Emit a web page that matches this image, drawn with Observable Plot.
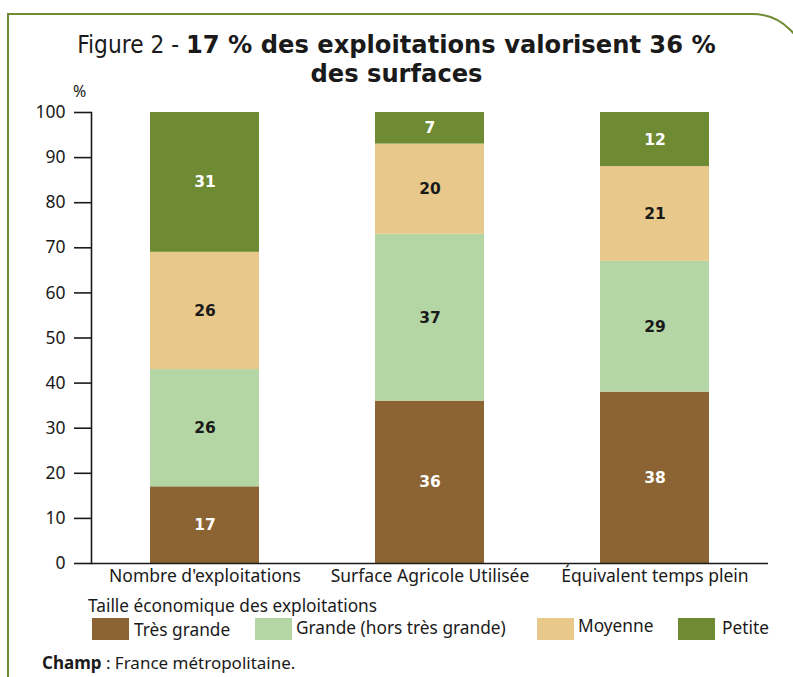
<!DOCTYPE html>
<html>
<head>
<meta charset="utf-8">
<script src="https://cdn.jsdelivr.net/npm/d3@7"></script>
<script src="https://cdn.jsdelivr.net/npm/@observablehq/plot@0.6"></script>
<style>
  html, body { margin: 0; padding: 0; background: #fff; }
  body { width: 793px; height: 677px; position: relative; overflow: hidden; font-family: "Noto Sans", sans-serif; color: #1a1a1a; }
  #frame { position: absolute; left: 7px; top: 13px; width: 800px; height: 720px; border: 2px solid #6f8c33; border-top-right-radius: 55px; box-sizing: border-box; }
  #title { position: absolute; left: 0; width: 793px; top: 31px; text-align: center; font-family: "DejaVu Sans", sans-serif; font-size: 24.2px; line-height: 29px; }
  #title span { font-family: "DejaVu Sans Condensed", "DejaVu Sans", sans-serif; }
  #title b { font-weight: bold; }
  #chart { position: absolute; left: 0; top: 0; }
  #pct { position: absolute; left: 73px; top: 80px; font-size: 16px; }
  #legend { position: absolute; left: 88px; top: 594px; font-size: 17.3px; }
  .lt { position: absolute; white-space: nowrap; }
  .sw { position: absolute; width: 37px; height: 22px; }
  #champ { position: absolute; left: 42px; top: 651px; font-size: 17px; }
</style>
</head>
<body>
<div id="frame"></div>
<div id="chart"></div>
<div id="title"><span>Figure 2 - </span><b>17 % des exploitations valorisent 36 %<br>des surfaces</b></div>
<div id="pct">%</div>
<div id="legend"></div>
<div id="champ"><b>Champ</b> : France métropolitaine.</div>
<script>
const categories = ["Nombre d'exploitations", "Surface Agricole Utilisée", "Équivalent temps plein"];
const sizes = ["Très grande", "Grande (hors très grande)", "Moyenne", "Petite"];
const tresGrande = [17, 36, 38];
const grande = [26, 37, 29];
const moyenne = [26, 20, 21];
const petite = [31, 7, 12];
const yTicks = [0, 10, 20, 30, 40, 50, 60, 70, 80, 90, 100];
const colors = ["#8c6332", "#b4d6a4", "#e8c98b", "#6e8b33"];
const labelColors = ["#ffffff", "#1a1a1a", "#1a1a1a", "#ffffff"];

const series = [tresGrande, grande, moyenne, petite];
const data = [];
sizes.forEach((s, i) => categories.forEach((c, j) => data.push({cat: c, size: s, value: series[i][j], lc: labelColors[i]})));

const chart = Plot.plot({
  width: 793,
  height: 600,
  marginTop: 112,
  marginBottom: 37,
  marginLeft: 91,
  marginRight: 25,
  style: {fontFamily: "Noto Sans, sans-serif", fontSize: "17px", color: "#1a1a1a", background: "transparent"},
  x: {domain: categories, paddingInner: 0.517, paddingOuter: 0.2585, label: null},
  y: {domain: [0, 100], label: null},
  color: {domain: sizes, range: colors},
  marks: [
    Plot.barY(data, {x: "cat", y: "value", fill: "size", order: sizes}),
    Plot.text(data, Plot.stackY({x: "cat", y: "value", z: "size", order: sizes, text: d => String(d.value), fill: "lc", fontWeight: "bold", fontFamily: "DejaVu Sans, sans-serif", fontSize: 15.5})),
    Plot.axisY({ticks: yTicks, tickSize: 17, tickPadding: 9, strokeWidth: 1.6, fontSize: 17.5, label: null}),
    Plot.axisX({tickSize: 0, tickPadding: 6, fontSize: 17.5, label: null}),
    Plot.frame({anchor: "left", strokeWidth: 1.6}),
    Plot.ruleY([0], {strokeWidth: 1.6})
  ]
});
document.getElementById("chart").appendChild(chart);

// Legend
const legend = document.getElementById("legend");
const lt = document.createElement("div");
lt.className = "lt"; lt.style.left = "0px"; lt.style.top = "0px";
lt.textContent = "Taille économique des exploitations";
legend.appendChild(lt);
const swX = [4, 167, 449, 590];
const txX = [46, 208, 490, 634];
const txY = [24, 22, 20, 22];
sizes.forEach((s, i) => {
  const sw = document.createElement("div");
  sw.className = "sw"; sw.style.left = swX[i] + "px"; sw.style.top = "24px"; sw.style.background = colors[i];
  legend.appendChild(sw);
  const t = document.createElement("div");
  t.className = "lt"; t.style.left = txX[i] + "px"; t.style.top = txY[i] + "px";
  t.textContent = s;
  legend.appendChild(t);
});
</script>
</body>
</html>
